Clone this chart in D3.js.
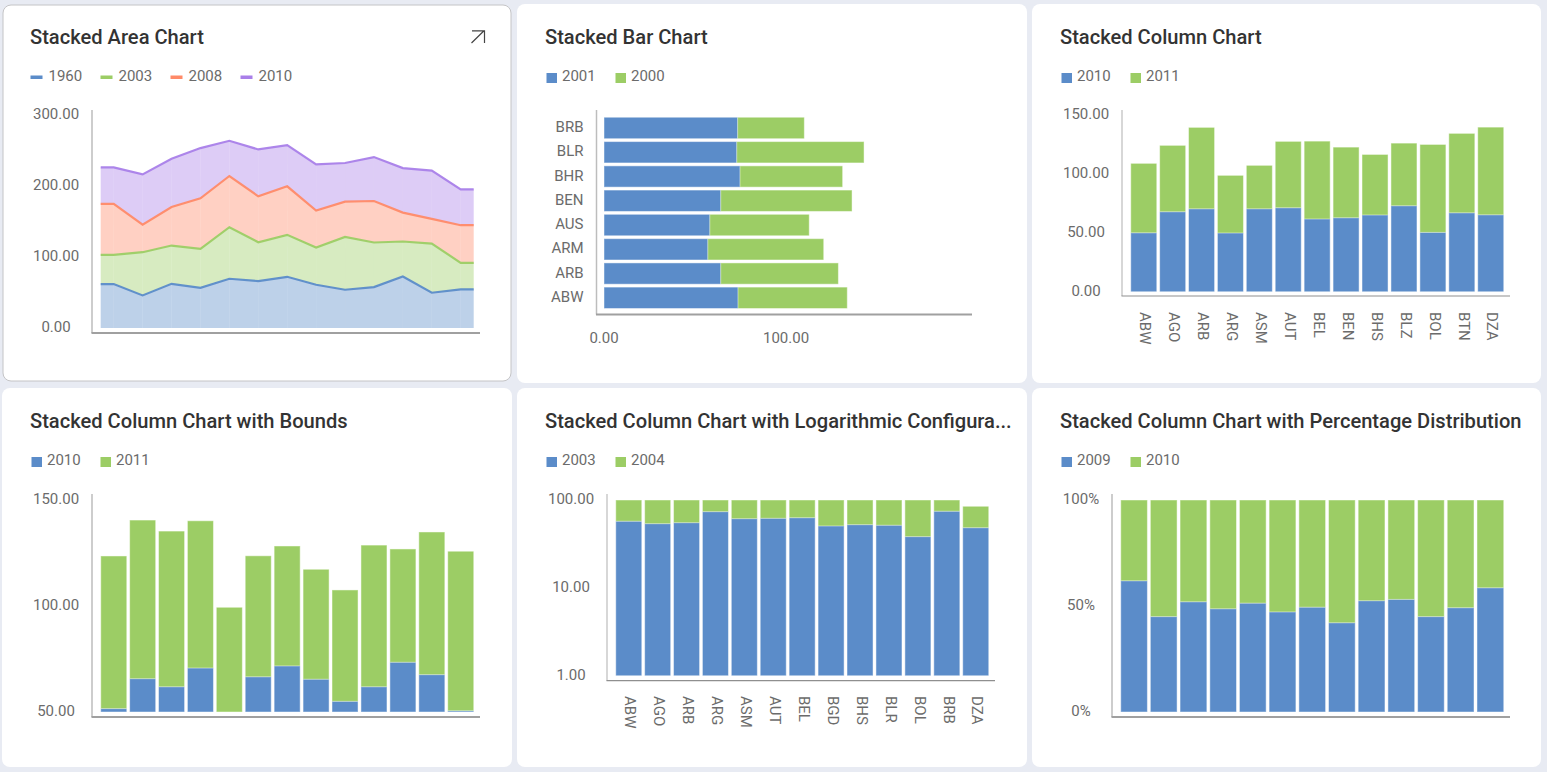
<!DOCTYPE html>
<html>
<head>
<meta charset="utf-8">
<script src="https://cdn.jsdelivr.net/npm/d3@7/dist/d3.min.js"></script>
<style>
html,body{margin:0;padding:0;background:#e8ebf3;overflow:hidden}
svg{display:block;font-family:Roboto,sans-serif}
.title{font-size:20.13px;font-weight:500;fill:#333}
.legend{font-size:15px;fill:#6b6b6b}
.tick text{font-family:Roboto,sans-serif;font-size:15px;fill:#6b6b6b}
</style>
</head>
<body>
<svg id="c" width="1547" height="772"></svg>
<script>
// ---------- Stacked Area Chart ----------
const areaKeys = ["1960","2003","2008","2010"];
const area1960 = [62,46,62.4,56.8,69.5,66.2,72.3,61,54,57.7,72.8,49.8,54.5];
const area2003 = [41.3,61,54,54.9,72.8,54.9,59.2,52.6,74.6,63,49.3,69.4,37.5];
const area2008 = [71.8,39,54.5,71.4,72.3,64.8,68.5,52.1,49.8,58.6,40.8,34.8,53.1];
const area2010 = [51.7,70.9,68.1,70.9,49.7,66.2,58.2,65.3,54.5,62,62.9,68.1,50.7];
const areaTicks = [0,100,200,300];

// ---------- Stacked Bar Chart ----------
const barCats = ["BRB","BLR","BHR","BEN","AUS","ARM","ARB","ABW"];
const bar2001 = [73.4,72.9,74.7,64.1,58.1,57,64.1,73.6];
const bar2000 = [36.7,70,56.4,72.2,54.7,63.7,64.7,60.1];
const barTicks = [0,100];

// ---------- Stacked Column Chart ----------
const colCats = ["ABW","AGO","ARB","ARG","ASM","AUT","BEL","BEN","BHS","BLZ","BOL","BTN","DZA"];
const col2010 = [50.1,68,70.5,49.9,70.5,71.4,61.8,62.9,65.2,73.1,50.4,67.1,65.4];
const col2011 = [59,56.4,69.2,49,36.9,56.4,66.2,60,51.5,53.2,74.8,67.5,74.5];
const colTicks = [0,50,100,150];

// ---------- Stacked Column Chart with Bounds ----------
const bnd2010 = [51.6,65.7,61.9,70.7,50,66.6,71.7,65.4,55,61.9,73.4,67.6,50.6];
const bnd2011 = [71.9,74.7,73.3,69.4,49.3,57,56.5,51.8,52.5,66.7,53.4,67.2,75.1];
const bndTicks = [50,100,150];

// ---------- Stacked Column Chart with Logarithmic Configuration ----------
const logCats = ["ABW","AGO","ARB","ARG","ASM","AUT","BEL","BGD","BHS","BLR","BOL","BRB","DZA"];
const log2003 = [57.2,53.8,55.2,73.7,61.3,61.8,62.9,50.6,52.4,51.5,38.3,74.3,48.4];
const log2004 = [43,46.5,45,26.5,39,38.5,37.5,49.5,48,48.5,62,26,36.3];
const logTicks = [1,10,100];

// ---------- Stacked Column Chart with Percentage Distribution ----------
const pct2009 = [61.9,45,52,48.7,51.3,47.2,49.4,42.1,52.5,53.1,45,49.2,58.6];
const pct2010 = [38.1,55,48,51.3,48.7,52.8,50.6,57.9,47.5,46.9,55,50.8,41.4];
const pctTicks = [0,50,100];

const BLUE="#5b8cc9", GREEN="#9ccd65", ORANGE="#ff8a68", PURPLE="#a97fe9";
const svg = d3.select("#c");

function card(x,y,w,h,bordered){
  svg.append("rect").attr("x",x).attr("y",y).attr("width",w).attr("height",h).attr("rx",8)
    .attr("fill","#fff").attr("stroke",bordered?"#c4c4c6":"none");
}
function header(x,y,title,labels,colors,isLine){
  svg.append("text").attr("class","title").attr("x",x<10?30:x+28).attr("y",y+(isLine?38.5:39.5)).text(title);
  const step = isLine?70:69;
  labels.forEach((l,i)=>{
    const sx = x+(isLine?27.5:29)+i*step;
    if(isLine){
      svg.append("rect").attr("x",sx).attr("y",y+70.5).attr("width",12).attr("height",3.5).attr("fill",colors[i]);
      svg.append("text").attr("class","legend").attr("x",sx+18).attr("y",y+76).text(l);
    }else{
      svg.append("rect").attr("x",sx+.5).attr("y",y+69).attr("width",10.5).attr("height",10).attr("fill",colors[i]);
      svg.append("text").attr("class","legend").attr("x",sx+16).attr("y",y+76.5).text(l);
    }
  });
}
function frame(ax,top,bottom,right,thick){
  svg.append("line").attr("x1",ax).attr("x2",ax).attr("y1",top).attr("y2",bottom)
    .attr("stroke","#bdbdbd").attr("stroke-width",thick?1.5:1.2);
  svg.append("line").attr("x1",ax-.5).attr("x2",right).attr("y1",bottom).attr("y2",bottom)
    .attr("stroke",thick?"#a0a0a0":"#8f8f8f").attr("stroke-width",thick?2:1.2);
}
function yAxis(scale,ticks,fmt,cx){
  const g = svg.append("g").attr("transform",`translate(${cx},-1)`)
    .call(d3.axisLeft(scale).tickValues(ticks).tickFormat(fmt).tickSize(0).tickPadding(0));
  g.select(".domain").remove();
  g.selectAll("text").attr("x",0).attr("dy","0.31em").attr("text-anchor","middle");
}
function xAxisRot(scale,y){
  const g = svg.append("g").attr("transform",`translate(2,${y})`)
    .call(d3.axisBottom(scale).tickSize(0));
  g.select(".domain").remove();
  g.selectAll("text").attr("x",0).attr("y",0).attr("dy","0.35em")
    .attr("text-anchor","start").attr("transform","rotate(90)");
}
function columns(band,y,stacked,colors,yFloor){
  const g = svg.append("g");
  stacked.forEach((s,i)=>{
    g.selectAll(null).data(s).join("rect")
      .attr("x",(d,j)=>band(band.domain()[j])+.5)
      .attr("width",band.bandwidth()-1)
      .attr("y",d=>y(d[1])+.5)
      .attr("height",d=>Math.max(0,y(Math.max(d[0],yFloor))-y(d[1])-1))
      .attr("fill",colors[i]).attr("stroke",colors[i]).attr("stroke-width",1)
      .attr("stroke-opacity",.55);
  });
}
function stackOf(keys,arrays,offset){
  const rows = arrays[0].map((_,j)=>Object.fromEntries(keys.map((k,i)=>[k,arrays[i][j]])));
  const st = d3.stack().keys(keys);
  if(offset) st.offset(offset);
  return st(rows);
}
const f2 = d3.format(".2f");

// Cards
card(3,5,508,376,true);
card(517,4,510,379); card(1032,4,509,379);
card(2,388,510,379); card(517,388,510,379); card(1032,388,509,379);

// --- Panel 1: area ---
header(3,5,"Stacked Area Chart",areaKeys,[BLUE,GREEN,ORANGE,PURPLE],true);
svg.append("path").attr("d","M471.5 43 L484 30.8 M472 30.8 H484.5 V43").attr("fill","none").attr("stroke","#444").attr("stroke-width",1.2);
{
  const idx = d3.range(area1960.length);
  const band = d3.scaleBand().domain(idx).range([100.7,473.7]).paddingInner(.1);
  const y = d3.scaleLinear().domain([0,300]).range([328,115.5]);
  const colors=[BLUE,GREEN,ORANGE,PURPLE];
  const st = stackOf(areaKeys,[area1960,area2003,area2008,area2010]);
  const px = j => j<0?band.range()[0]:j>=idx.length?band.range()[1]:band(j)+band.bandwidth()/2;
  const ext = s => [{j:-1,d:s[0]},...s.map((d,j)=>({j,d})),{j:idx.length,d:s[s.length-1]}];
  const a = d3.area().x(p=>px(p.j)).y0(p=>y(p.d[0])).y1(p=>y(p.d[1]));
  const l = d3.line().x(p=>px(p.j)).y(p=>y(p.d[1]));
  // one piece per interval between points, so the faint seams of the original show
  st.forEach((s,i)=>{
    const pts = ext(s);
    d3.pairs(pts).forEach(pair=>svg.append("path").attr("d",a(pair)).attr("fill",colors[i]).attr("fill-opacity",.4));
  });
  st.forEach((s,i)=>svg.append("path").attr("d",l(ext(s))).attr("fill","none").attr("stroke",colors[i]).attr("stroke-width",2.2).attr("stroke-opacity",.95));
  frame(92,110,333,480,true);
  yAxis(d3.scaleLinear().domain([0,300]).range([328,115]),areaTicks,f2,56);
}

// --- Panel 2: bar ---
header(517,4,"Stacked Bar Chart",["2001","2000"],[BLUE,GREEN],false);
{
  const x = d3.scaleLinear().domain([0,200]).range([604,968]);
  const band = d3.scaleBand().domain(barCats).range([117.3,308.5]).paddingInner(.12);
  const st = stackOf(["2001","2000"],[bar2001,bar2000]);
  const colors=[BLUE,GREEN];
  st.forEach((s,i)=>{
    svg.append("g").selectAll(null).data(s).join("rect")
      .attr("y",(d,j)=>band(barCats[j])+.5).attr("height",band.bandwidth()-1)
      .attr("x",d=>x(d[0])+.5).attr("width",d=>x(d[1])-x(d[0])-1)
      .attr("fill",colors[i]).attr("stroke",colors[i]).attr("stroke-opacity",.55);
  });
  frame(596.5,110,314.5,972,true);
  const gy = svg.append("g").attr("transform","translate(583.5,-0.5)")
    .call(d3.axisLeft(band).tickSize(0).tickPadding(0));
  gy.select(".domain").remove();
  gy.selectAll("text").attr("x",0).attr("dy","0.3em").attr("text-anchor","end");
  const gx = svg.append("g").attr("transform","translate(-0.5,332)")
    .call(d3.axisBottom(x).tickValues(barTicks).tickFormat(f2).tickSize(0).tickPadding(0));
  gx.select(".domain").remove();
  gx.selectAll("text").attr("y",0).attr("dy","0.72em").attr("text-anchor","middle");
}

// --- Panel 3: column ---
header(1032,4,"Stacked Column Chart",["2010","2011"],[BLUE,GREEN],false);
{
  const band = d3.scaleBand().domain(colCats).range([1130.7,1503.7]).paddingInner(.1);
  const y = d3.scaleLinear().domain([0,150]).range([291.7,115.3]);
  columns(band,y,stackOf(["2010","2011"],[col2010,col2011]),[BLUE,GREEN],0);
  frame(1122,110,296,1510,false);
  yAxis(y,colTicks,f2,1086);
  xAxisRot(band,312);
}

// --- Panel 4: bounds ---
header(2,388,"Stacked Column Chart with Bounds",["2010","2011"],[BLUE,GREEN],false);
{
  const band = d3.scaleBand().domain(d3.range(bnd2010.length)).range([100.7,473.7]).paddingInner(.1);
  const y = d3.scaleLinear().domain([50,150]).range([712,499.7]).clamp(true);
  columns(band,y,stackOf(["2010","2011"],[bnd2010,bnd2011]),[BLUE,GREEN],50);
  frame(92,494,717,480,true);
  yAxis(y,bndTicks,f2,56);
}

// --- Panel 5: log ---
header(517,388,"Stacked Column Chart with Logarithmic Configura...",["2003","2004"],[BLUE,GREEN],false);
{
  const band = d3.scaleBand().domain(logCats).range([615.7,988.7]).paddingInner(.1);
  const y = d3.scaleLog().domain([1,100]).range([675.7,500]).clamp(true);
  columns(band,y,stackOf(["2003","2004"],[log2003,log2004]),[BLUE,GREEN],1);
  frame(607,494,680.7,995,false);
  yAxis(y,logTicks,f2,571);
  xAxisRot(band,696);
}

// --- Panel 6: percent ---
header(1032,388,"Stacked Column Chart with Percentage Distribution",["2009","2010"],[BLUE,GREEN],false);
{
  const band = d3.scaleBand().domain(d3.range(pct2009.length)).range([1120.7,1503.7]).paddingInner(.1);
  const y = d3.scaleLinear().domain([0,1]).range([712,500]);
  columns(band,y,stackOf(["2009","2010"],[pct2009,pct2010],d3.stackOffsetExpand),[BLUE,GREEN],0);
  frame(1112,494,717,1510,true);
  yAxis(y,pctTicks.map(t=>t/100),d3.format(".0%"),1081);
}
</script>
</body>
</html>
